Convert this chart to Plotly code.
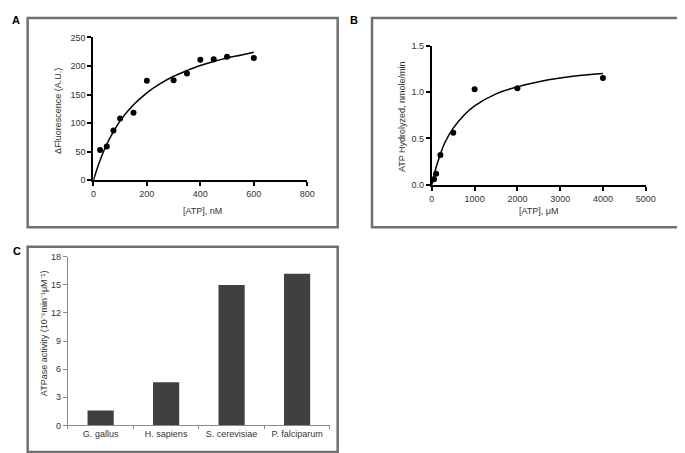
import plotly.graph_objects as go

# ---------------- data ----------------
# Panel A
a_atp_nM = [25, 50, 75, 100, 150, 200, 300, 350, 400, 450, 500, 600]
a_fluor = [53, 59, 87, 108, 118, 174, 175, 187, 211, 212, 216, 214]
a_fit_x = [0, 25, 50, 75, 100, 150, 200, 250, 300, 350, 400, 450, 500, 550, 600]
a_fit_y = [0, 35, 63, 85, 104, 132, 153, 169, 182, 192, 201, 208, 214, 219, 224]

# Panel B
b_atp_uM = [50, 100, 200, 500, 1000, 2000, 4000]
b_hydro = [0.06, 0.12, 0.32, 0.56, 1.03, 1.04, 1.15]
b_fit_x = [0, 50, 100, 200, 300, 500, 750, 1000, 1500, 2000, 2500, 3000, 3500, 4000]
b_fit_y = [0, 0.10, 0.19, 0.33, 0.45, 0.61, 0.75, 0.85, 0.98, 1.055, 1.11, 1.15, 1.18, 1.20]

# Panel C
c_species = ["G. gallus", "H. sapiens", "S. cerevisiae", "P. falciparum"]
c_activity = [1.6, 4.6, 15.0, 16.2]

a_xticks = [0, 200, 400, 600, 800]
a_yticks = [0, 50, 100, 150, 200, 250]
b_xticks = [0, 1000, 2000, 3000, 4000, 5000]
b_yticks = [0.0, 0.5, 1.0, 1.5]
c_yticks = [0, 3, 6, 9, 12, 15, 18]

W, H = 685, 453
FONT = "Liberation Sans, Arial, sans-serif"
TXT = "#333333"


def px(x):
    return x / W


def py(y):
    return 1 - y / H


fig = go.Figure()

# Panel A
fig.add_trace(go.Scatter(x=a_fit_x, y=a_fit_y, mode="lines", line=dict(color="black", width=1.5, shape="spline"),
                         xaxis="x", yaxis="y", showlegend=False, hoverinfo="skip"))
fig.add_trace(go.Scatter(x=a_atp_nM, y=a_fluor, mode="markers", marker=dict(color="black", size=6),
                         xaxis="x", yaxis="y", showlegend=False))
# Panel B
fig.add_trace(go.Scatter(x=b_fit_x, y=b_fit_y, mode="lines", line=dict(color="black", width=1.5, shape="spline"),
                         xaxis="x2", yaxis="y2", showlegend=False, hoverinfo="skip"))
fig.add_trace(go.Scatter(x=b_atp_uM, y=b_hydro, mode="markers", marker=dict(color="black", size=6),
                         xaxis="x2", yaxis="y2", showlegend=False))
# Panel C
fig.add_trace(go.Bar(x=c_species, y=c_activity, marker=dict(color="#404040", line=dict(width=0)),
                     width=0.4, xaxis="x3", yaxis="y3", showlegend=False))

tickfont = dict(family=FONT, size=9, color=TXT)
black_axis = dict(showgrid=False, zeroline=False, showline=True, linecolor="black", linewidth=2,
                  ticks="outside", ticklen=4, tickwidth=1.5, tickcolor="black", tickfont=tickfont,
                  fixedrange=True)
gray_axis = dict(showgrid=False, zeroline=False, showline=True, linecolor="#8a8a8a", linewidth=1,
                 ticks="outside", ticklen=4, tickwidth=1, tickcolor="#8a8a8a", tickfont=tickfont,
                 fixedrange=True)

fig.update_layout(
    width=W, height=H,
    margin=dict(l=0, r=0, t=0, b=0),
    paper_bgcolor="white", plot_bgcolor="white",
    font=dict(family=FONT, size=9, color=TXT),
    xaxis=dict(black_axis, domain=[px(84), px(302)], range=[0, 800], tickvals=a_xticks, anchor="y"),
    yaxis=dict(black_axis, domain=[py(171), py(25)], range=[0, 250], tickvals=a_yticks, anchor="x"),
    xaxis2=dict(black_axis, domain=[px(429), px(647)], range=[0, 5000], tickvals=b_xticks, anchor="y2"),
    yaxis2=dict(black_axis, domain=[py(175.7), py(33.3)], range=[0, 1.5], tickvals=b_yticks,
                tickformat=".1f", anchor="x2"),
    xaxis3=dict(gray_axis, domain=[px(58), px(325)], range=[-0.5, 3.5], tickson="boundaries",
                ticklen=3, anchor="y3"),
    yaxis3=dict(gray_axis, domain=[py(421.7), py(249.3)], range=[0, 18], tickvals=c_yticks, anchor="x3"),
)

# Panel frames
frame = dict(type="rect", xref="paper", yref="paper", line=dict(color="#707070", width=2.5),
             fillcolor="rgba(0,0,0,0)", layer="below")
fig.add_shape(frame, x0=px(17), x1=px(333), y0=py(219), y1=py(5))
fig.add_shape(frame, x0=px(368), x1=px(683), y0=py(219), y1=py(5))
fig.add_shape(frame, x0=px(17), x1=px(333), y0=py(449), y1=py(239))


def ann(text, x, y, size=9, angle=0, bold=False, color=TXT):
    fig.add_annotation(text=f"<b>{text}</b>" if bold else text, x=px(x), y=py(y), xref="paper", yref="paper",
                       showarrow=False, textangle=angle, xanchor="center", yanchor="middle",
                       font=dict(family=FONT, size=size, color=color))


# Panel letters
ann("A", 5, 7, size=11, bold=True, color="black")
ann("B", 350, 7, size=11, bold=True, color="black")
ann("C", 6, 243, size=11, bold=True, color="black")

# Axis titles
ann("ΔFluorescence (A.U.)", 48, 100, angle=-90)
ann("[ATP], nM", 195, 202)
ann("ATP Hydrolyzed, nmole/min", 398, 106, angle=-90)
ann("[ATP], μM", 538, 202)
ann("ATPase activity (10⁻⁶min⁻¹μM⁻¹)", 33, 327, angle=-90)

fig.write_html("out.html")
